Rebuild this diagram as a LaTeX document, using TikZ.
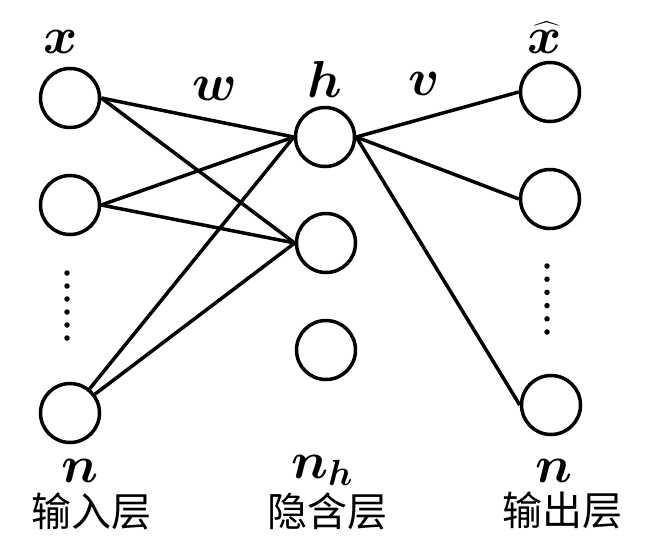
\RequirePackage{fix-cm}
\documentclass[tikz,border=0pt]{standalone}
\usepackage{fontspec}
\usepackage{amsmath}
\usepackage{bm}
\newfontfamily\cjk{Noto Sans CJK SC}
\tikzset{
  neuron/.style={circle,draw=black,line width=3.5pt,minimum size=59pt,inner sep=0pt},
  conn/.style={line width=3.5pt,black},
  mathlbl/.style={inner sep=0pt,font=\fontsize{52}{62}\selectfont},
  cjklbl/.style={inner sep=0pt,font=\cjk\fontsize{40}{48}\selectfont},
  dotmark/.style={circle,fill=black,inner sep=0pt,minimum size=5.5pt}
}
\begin{document}
\begin{tikzpicture}[x=1pt,y=-1pt]
\useasboundingbox (0,0) rectangle (655,557);
% input layer
\node[neuron] (i1) at (70,98) {};
\node[neuron] (i2) at (70,205) {};
\node[neuron] (in) at (70,413) {};
% hidden layer
\node[neuron] (h1) at (325,137) {};
\node[neuron] (h2) at (326,243) {};
\node[neuron] (h3) at (326,350) {};
% output layer
\node[neuron] (o1) at (550,92) {};
\node[neuron] (o2) at (550,199) {};
\node[neuron] (on) at (551,405) {};
% connections
\draw[conn] (i1.east) -- (h1.west);
\draw[conn] (i1.east) -- (h2.west);
\draw[conn] (i2.east) -- (h1.west);
\draw[conn] (i2.east) -- (h2.west);
\draw[conn] (in) -- (h1.west);
\draw[conn] (in) -- (h2.west);
\draw[conn] (h1.east) -- (o1.west);
\draw[conn] (h1.east) -- (o2.west);
\draw[conn] (h1.east) -- (on.west);
% dots
\foreach \k [count=\j] in {0,...,5} {
  \node[dotmark] (ld\j) at (67,273+13*\k) {};
  \node[dotmark] (rd\j) at (547,266+13.2*\k) {};
}
% top labels
\node[mathlbl,anchor=base] (lx) at (61,53) {$\bm{x}$};
\node[mathlbl,anchor=base] (lw) at (215,100) {$\bm{w}$};
\node[mathlbl,anchor=base] (lh) at (325,97) {$\bm{h}$};
\node[mathlbl,anchor=base] (lv) at (424,95) {$\bm{v}$};
\node[mathlbl,anchor=base] (lxh) at (545,53) {$\widehat{\bm{x}}$};
% bottom labels
\node[mathlbl,anchor=base] (ln1) at (80,482) {$\bm{n}$};
\node[mathlbl,anchor=base] (lnh) at (322,478) {$\bm{n_h}$};
\node[mathlbl,anchor=base] (ln2) at (554,482) {$\bm{n}$};
\node[cjklbl] (t1) at (91,511) {输入层};
\node[cjklbl] (t2) at (327,511) {隐含层};
\node[cjklbl] (t3) at (562,510) {输出层};
\end{tikzpicture}
\end{document}
